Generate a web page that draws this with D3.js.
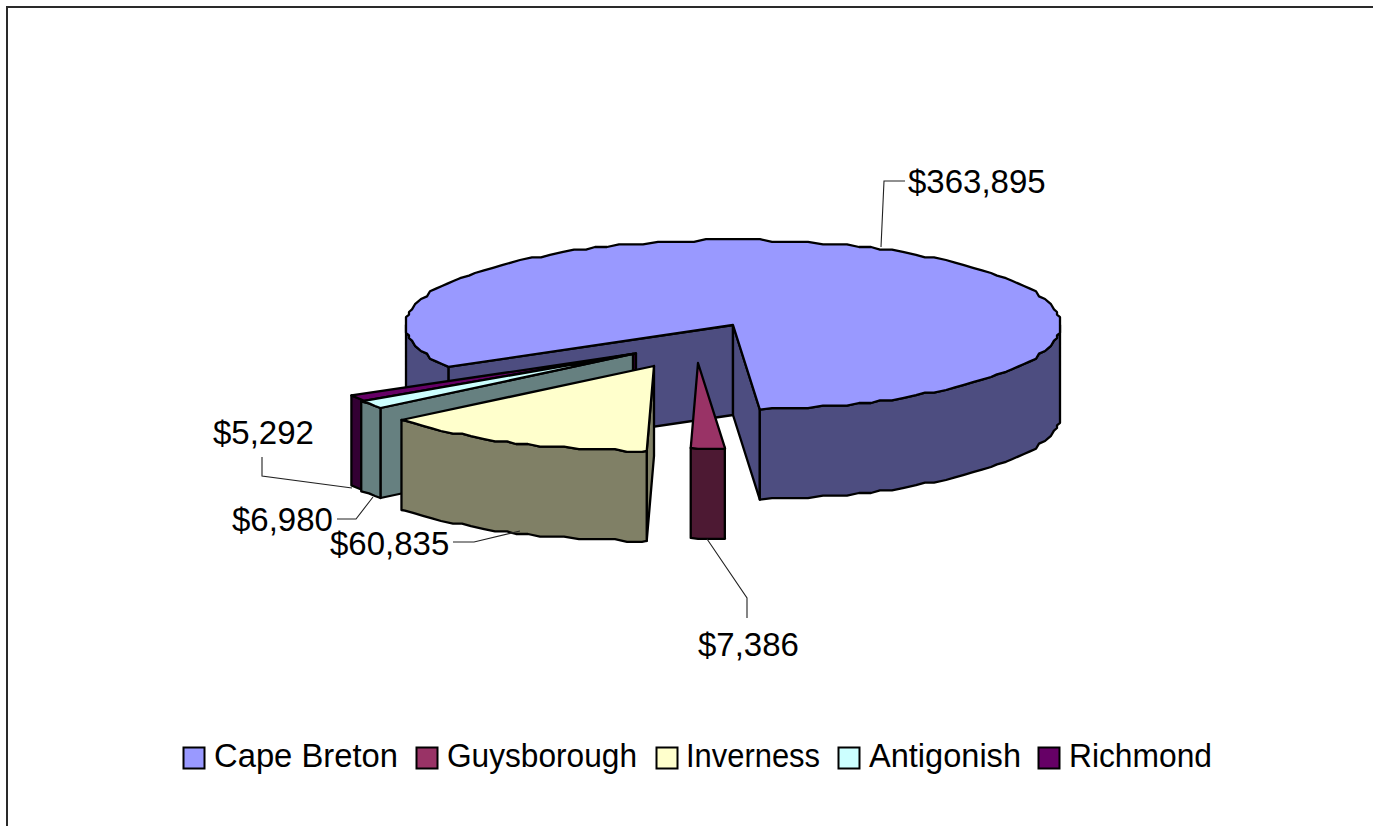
<!DOCTYPE html>
<html><head><meta charset="utf-8">
<script src="https://cdn.jsdelivr.net/npm/d3@7"></script>
<style>html,body{margin:0;padding:0;background:#fff;overflow:hidden}svg{display:block}</style>
</head><body><svg id="c" width="1373" height="826"></svg>
<script>
const categories = ["Cape Breton","Guysborough","Inverness","Antigonish","Richmond"];
const amounts = [363895,7386,60835,6980,5292];
const topColors = ["#9999FF","#993366","#FFFFCC","#CCFFFF","#660066"];
const wallColors = ["#4D4D80","#4D1933","#808066","#668080","#330033"];

const svg = d3.select("#c");
const FONT = "'Liberation Sans',Arial,sans-serif";
const rad = d => d*Math.PI/180;

// frame
svg.append("path").attr("d","M7,830V7H1380").attr("fill","none").attr("stroke","#2a2a2a").attr("stroke-width",2);

// pie geometry
const cx = 733, cy = 325, rx = 327, ry = 85, depth = 90;
const sx = d3.scaleLinear().domain([-1,1]).range([cx-rx,cx+rx]);
const sy = d3.scaleLinear().domain([-1,1]).range([cy-ry,cy+ry]);
// how far each slice has been pulled out of the pie, in px
const explodeX = [0,-35,-79,-100,-97];
const explodeY = [0, 38, 41, 29, 28.5];
const drawOrder = [0,4,3,2,1];

const arcs = d3.pie().value(d=>d).sort(null)
  .startAngle(rad(240.5)).endAngle(rad(600.5))(amounts);

const lineGen = d3.line().x(p=>p[0]).y(p=>p[1]);
const STEP = rad(2.25);

function rimPoints(a0,a1,d,i){
  const angles=[a0];
  for(let k=Math.floor(a0/STEP)+1;k*STEP<a1-1e-6;k++){ if(k*STEP>a0+1e-6) angles.push(k*STEP); }
  angles.push(a1);
  return angles.map(a=>{
    let x=sx(Math.sin(a)), y=sy(-Math.cos(a));
    const corner=Math.abs(a-d.startAngle)<1e-6||Math.abs(a-d.endAngle)<1e-6;
    if(!corner){ x=cx+Math.round((x-cx)/3)*3; y=cy+Math.round((y-cy)/2.6)*2.6; }
    return [x+explodeX[i],y+explodeY[i]];
  });
}
const down = pts => pts.map(p=>[p[0],p[1]+depth]);
function face(g,pts,fill){
  g.append("path").attr("d",lineGen(pts)+"Z").attr("fill",fill)
   .attr("stroke","#000").attr("stroke-width",2.3).attr("stroke-linejoin","round");
}

drawOrder.forEach(i=>{
  const d=arcs[i], g=svg.append("g").attr("class","slice");
  const apex=[cx+explodeX[i],cy+explodeY[i]];
  const wall=wallColors[i];
  const rim=rimPoints(d.startAngle,d.endAngle,d,i);
  const pA=rim[0], pB=rim[rim.length-1];
  // cut faces turned towards the viewer
  if(Math.sin(d.startAngle)<0) face(g,[apex,pA].concat(down([pA,apex])),wall);
  if(Math.sin(d.endAngle)>0) face(g,[apex,pB].concat(down([pB,apex])),wall);
  // outer wall on the front half of the ellipse
  [[rad(90),rad(270)],[rad(450),rad(630)]].forEach(([f0,f1])=>{
    const a0=Math.max(f0,d.startAngle), a1=Math.min(f1,d.endAngle);
    if(a1>a0){
      const r=rimPoints(a0,a1,d,i);
      face(g,r.concat(down(r).reverse()),wall);
    }
  });
  // top
  face(g,[apex].concat(rim),topColors[i]);
});

// leader lines
const leaders=[
 [[905,181],[884,181],[881,247]],
 [[707,539],[747,598],[747,618]],
 [[453,542],[474,542],[520,531]],
 [[337,519],[356,519],[373,497]],
 [[262,457],[262,476],[352,488]]
];
leaders.forEach(l=>svg.append("path").attr("d",lineGen(l)).attr("fill","none").attr("stroke","#222").attr("stroke-width",1.1));

// value labels
const fmt = d3.format("$,");
const labelX=[908,698,330,232,213], labelY=[193,656,555,531,444];
amounts.forEach((v,i)=>svg.append("text").attr("x",labelX[i]).attr("y",labelY[i])
  .attr("font-family",FONT).attr("font-size",33).attr("fill","#000").text(fmt(v)));

// legend
const swatchX=[183,416,656,838,1038], textX=[214,447,686,869,1069], textW=[184,190,134,152,143];
categories.forEach((c,i)=>{
  svg.append("rect").attr("x",swatchX[i]+.5).attr("y",747.5).attr("width",21).attr("height",21)
    .attr("fill",topColors[i]).attr("stroke","#000").attr("stroke-width",2);
  svg.append("text").attr("x",textX[i]).attr("y",767).attr("font-family",FONT)
    .attr("font-size",33).attr("fill","#000")
    .attr("textLength",textW[i]).attr("lengthAdjust","spacingAndGlyphs").text(c);
});
</script></body></html>
